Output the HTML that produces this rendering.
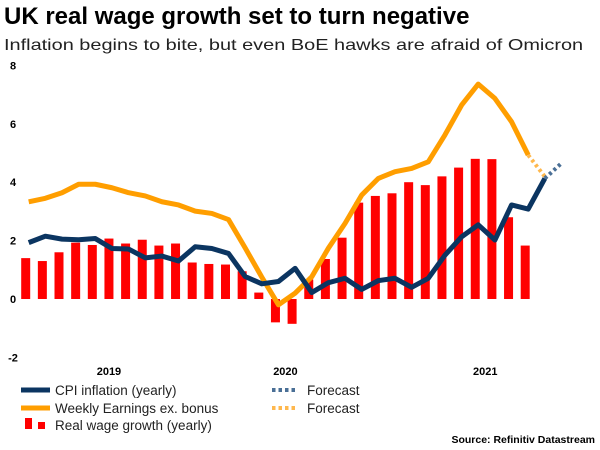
<!DOCTYPE html>
<html><head><meta charset="utf-8"><style>
body{margin:0;background:#fff;font-family:"Liberation Sans",Arial,sans-serif;}
#wrap{position:relative;width:600px;height:450px;overflow:hidden;}
.t{position:absolute;white-space:nowrap;color:#000;}
</style></head><body>
<div id="wrap">
<div class="t" style="left:4px;top:3px;font-size:24px;font-weight:bold;">UK real wage growth set to turn negative</div>
<div class="t" style="left:4px;top:37px;font-size:16px;color:#222;transform:scaleX(1.245);transform-origin:left top;">Inflation begins to bite, but even BoE hawks are afraid of Omicron</div>
<svg id="chart" width="600" height="450" style="position:absolute;left:0;top:0"></svg>
<div class="t" style="right:5px;top:434px;font-size:10.5px;font-weight:bold;">Source: Refinitiv Datastream</div>
</div>
<script>
const yTicks=[8,6,4,2,0,-2];
const yearLabels=["2019","2020","2021"];
const yearIdx=[5,15.6,27.6];
const realWage=[1.4,1.3,1.6,1.93,1.85,2.07,1.9,2.03,1.83,1.9,1.25,1.2,1.18,0.95,0.22,-0.8,-0.85,0.67,1.37,2.1,3.3,3.53,3.62,4.0,3.9,4.2,4.5,4.8,4.79,2.8,1.83];
const cpi=[1.93,2.15,2.05,2.03,2.07,1.73,1.71,1.41,1.47,1.3,1.79,1.73,1.56,0.77,0.52,0.6,1.05,0.22,0.56,0.71,0.33,0.63,0.71,0.4,0.71,1.5,2.13,2.54,2.02,3.22,3.08,4.13];
const cpiForecast=[4.13,4.65];
const earnings=[3.33,3.45,3.64,3.93,3.93,3.81,3.64,3.53,3.33,3.22,3.01,2.93,2.72,1.75,0.75,-0.2,0.2,0.76,1.74,2.59,3.56,4.13,4.36,4.47,4.7,5.62,6.64,7.36,6.87,6.07,4.93];
const earnForecast=[4.93,4.19];
const NS="http://www.w3.org/2000/svg";
const svg=document.getElementById('chart');
const xs=i=>25.7+i*16.65;
const ys=v=>299-v*29.2;
function mk(tag,attrs){const e=document.createElementNS(NS,tag);for(const k in attrs)e.setAttribute(k,attrs[k]);svg.appendChild(e);return e;}
yTicks.forEach(v=>{const t=mk('text',{x:13,y:ys(v)+4,'text-anchor':'middle','font-size':'11','font-weight':'bold','font-family':'Liberation Sans,sans-serif'});t.textContent=v;

});
yearLabels.forEach((l,i)=>{const t=mk('text',{x:xs(yearIdx[i]),y:375,'text-anchor':'middle','font-size':'11','font-weight':'bold','font-family':'Liberation Sans,sans-serif'});t.textContent=l;

});
realWage.forEach((v,i)=>{const r=mk('rect',{x:xs(i)-4.5,y:Math.min(ys(v),ys(0)),width:9,height:Math.abs(ys(v)-ys(0)),fill:'#ff0000'});

});
const lx=i=>xs(i)+3;
function line(arr,off,color,dash,name){const pts=arr.map((v,i)=>lx(i+off)+','+ys(v)).join(' ');
const p=mk('polyline',{points:pts,fill:'none',stroke:color,'stroke-width':dash?4:5,'stroke-linejoin':'round'});
if(dash)p.setAttribute('stroke-dasharray','3 3');

}
line(earnings,0,'#ff9e00',false,'earnings-line');
line(earnForecast,earnings.length-1,'#ffb84d',true,'earnings-forecast-line');
line(cpi,0,'#0b3561',false,'cpi-line');
line(cpiForecast,cpi.length-1,'#4a6f96',true,'cpi-forecast-line');
const lg=[
 {y:390,kind:'line',c:'#0b3561',txt:'CPI inflation (yearly)',n:'legend-cpi'},
 {y:408,kind:'line',c:'#ff9e00',txt:'Weekly Earnings ex. bonus',n:'legend-earnings'},
 {y:425,kind:'bar',c:'#ff0000',txt:'Real wage growth (yearly)',n:'legend-real-wage'}];
lg.forEach(d=>{
 if(d.kind==='line')mk('rect',{x:21,y:d.y-2.5,width:29,height:5,fill:d.c});
 else{mk('rect',{x:25,y:d.y-7,width:7,height:11,fill:d.c});mk('rect',{x:38,y:d.y-3,width:7,height:7,fill:d.c});}
 const t=mk('text',{x:55,y:d.y+5,'font-size':'13.5','font-family':'Liberation Sans,sans-serif',fill:'#222'});t.textContent=d.txt;
 
 });
[[390,'#4a6f96','legend-cpi-forecast'],[408,'#ffb84d','legend-earnings-forecast']].forEach(d=>{
 mk('line',{x1:272,x2:298,y1:d[0],y2:d[0],stroke:d[1],'stroke-width':4,'stroke-dasharray':'3.5 3'});
 const t=mk('text',{x:307,y:d[0]+5,'font-size':'13.5','font-family':'Liberation Sans,sans-serif',fill:'#222'});t.textContent='Forecast';
 
 });
</script>
</body></html>
